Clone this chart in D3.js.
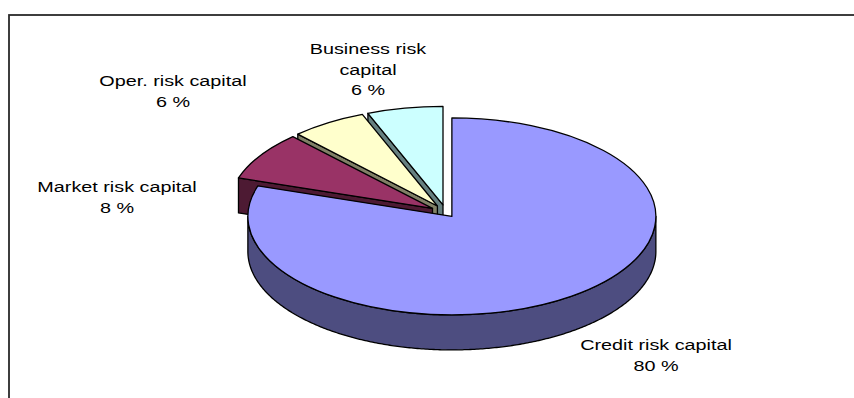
<!DOCTYPE html>
<html>
<head>
<meta charset="utf-8">
<script src="https://cdn.jsdelivr.net/npm/d3@7"></script>
<style>
  html, body { margin: 0; padding: 0; background: #fff; overflow: hidden; }
  text { font-family: "Liberation Sans", Arial, sans-serif; font-size: 15px; fill: #000; }
</style>
</head>
<body>
<svg id="chart" width="854" height="398"></svg>
<script>
// Economic capital split by risk type (percent of total)
const categories = ["Credit risk capital", "Market risk capital", "Oper. risk capital", "Business risk capital"];
const values = [80, 8, 6, 6];
const labelLines = [["Credit risk capital"], ["Market risk capital"], ["Oper. risk capital"], ["Business risk", "capital"]];
const topColors = ["#9999FF", "#993366", "#FFFFCC", "#CCFFFF"];

// ---- layout / styling ----
const rx = 204, ry = 98.5, depth = 35, k = ry / rx;
const origin = { x: 446, y: 212.5 };
const explode = [10, 16, 16, 16];
const labelPos = [ { x: 656, y: 350 }, { x: 117, y: 192 }, { x: 173, y: 86 }, { x: 368, y: 54 } ];
const lineGap = 20.5, textStretch = 1.32;

const svg = d3.select("#chart");

// chart-area frame (runs off the right and bottom edges)
svg.append("rect")
  .attr("x", 9).attr("y", 15).attr("width", 900).attr("height", 450)
  .attr("fill", "none").attr("stroke", "#2a2a2a").attr("stroke-width", 1.8);

const sideColors = topColors.map(c => d3.color(c).darker(1.0).formatHex());
// halve brightness like a shaded pie wall
const shade = c => { const r = d3.rgb(c); return d3.rgb(r.r * 0.5, r.g * 0.5, r.b * 0.5).formatHex(); };

const arcs = d3.pie().sort(null).value(d => d)(values);
const arcGen = d3.arc().innerRadius(0).outerRadius(rx);

arcs.forEach((a, i) => {
  const mid = (a.startAngle + a.endAngle) / 2;
  a.cx = origin.x + explode[i] * Math.sin(mid);
  a.cy = origin.y - explode[i] * Math.cos(mid) * k;
  a.index = i;
});

const pt = (a, t, dz = 0) => [a.cx + rx * Math.sin(t), a.cy - ry * Math.cos(t) + dz];

const g = svg.append("g");
const strokeStyle = sel => sel.attr("stroke", "#000").attr("stroke-width", 1.3).attr("stroke-linejoin", "round");

function cutFace(a, t) {
  const p = pt(a, t);
  const poly = [[a.cx, a.cy], p, [p[0], p[1] + depth], [a.cx, a.cy + depth]];
  g.append("path")
    .attr("d", d3.line()(poly) + "Z")
    .attr("fill", shade(topColors[a.index]))
    .call(strokeStyle);
}

function outerWall(a, t0, t1) {
  const ts = d3.range(t0, t1, 0.01).concat([t1]);
  const top = ts.map(t => pt(a, t));
  const bottom = ts.slice().reverse().map(t => pt(a, t, depth));
  g.append("path")
    .attr("d", d3.line()(top.concat(bottom)) + "Z")
    .attr("fill", shade(topColors[a.index]))
    .call(strokeStyle);
}

function topFace(a) {
  g.append("path")
    .attr("d", arcGen(a))
    .attr("transform", `translate(${a.cx},${a.cy}) scale(1,${k})`)
    .attr("vector-effect", "non-scaling-stroke")
    .attr("fill", topColors[a.index])
    .call(strokeStyle);
}

// back slices first (rightmost to leftmost), then the large front slice
[3, 2, 1].forEach(i => {
  const a = arcs[i];
  cutFace(a, a.startAngle);
  topFace(a);
});

const front = arcs[0];
const w0 = Math.max(front.startAngle, Math.PI / 2);
const w1 = Math.min(front.endAngle, Math.PI * 1.5);
if (w1 > w0) outerWall(front, w0, w1);
topFace(front);

// data labels
arcs.forEach((a, i) => {
  const lines = labelLines[i].concat([values[i] + " %"]);
  lines.forEach((line, j) => {
    svg.append("text")
      .attr("text-anchor", "middle")
      .attr("transform", `translate(${labelPos[i].x},${labelPos[i].y + j * lineGap}) scale(${textStretch},1)`)
      .text(line);
  });
});
</script>
</body>
</html>
